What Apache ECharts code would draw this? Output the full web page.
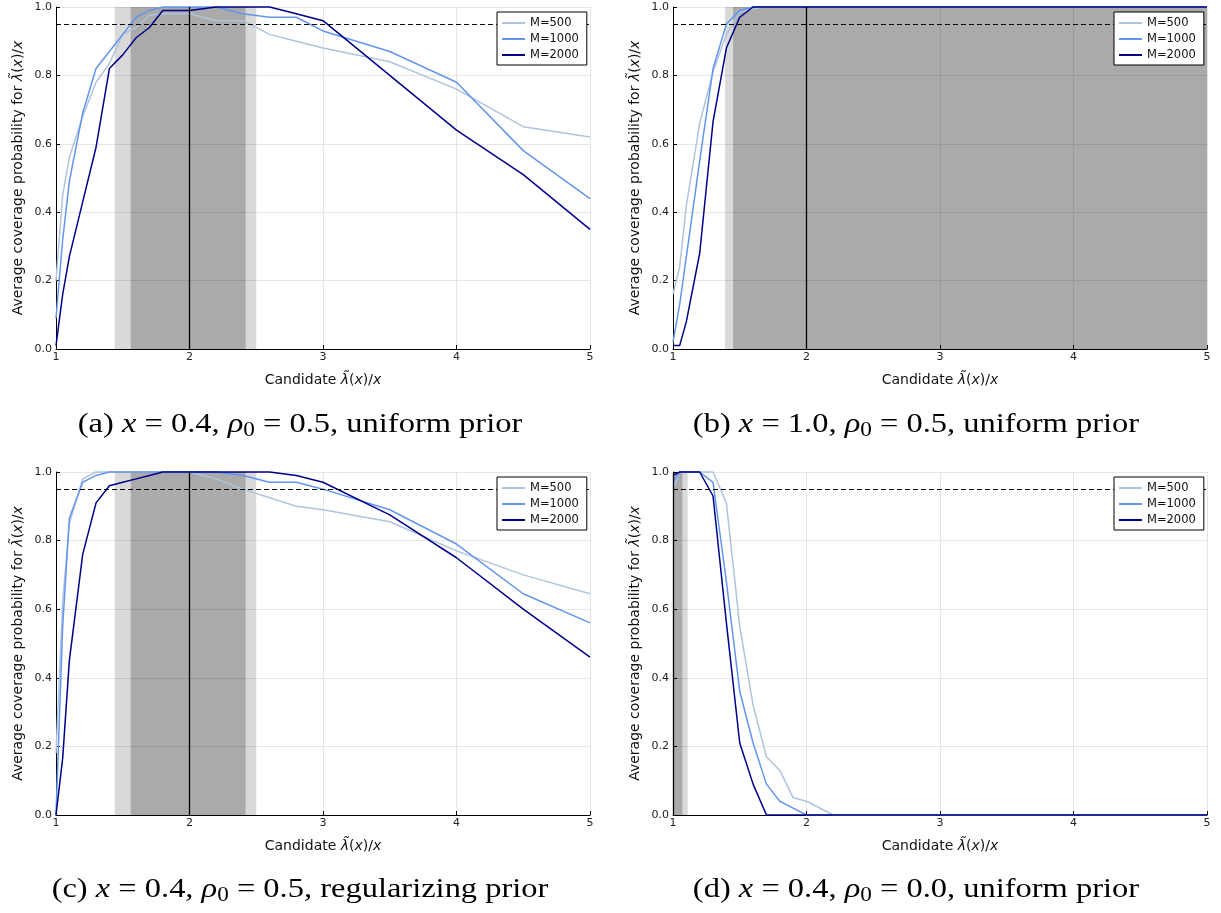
<!DOCTYPE html>
<html><head><meta charset="utf-8">
<script src="https://cdn.jsdelivr.net/npm/echarts@6/dist/echarts.min.js"></script>
<style>html,body{margin:0;padding:0;background:#fff}#c{width:1221px;height:913px}</style>
</head><body><div id="c"></div>
<script>
// ---- data ----
const xs = [1.0,1.05,1.1,1.2,1.3,1.4,1.5,1.6,1.7,1.8,1.9,2.0,2.2,2.4,2.6,2.8,3.0,3.5,4.0,4.5,5.0];
const seriesNames = ['M=500','M=1000','M=2000'];
const xTicks = [1,2,3,4,5];
const yTicks = [0,0.2,0.4,0.6,0.8,1.0];

const a500  = [0.20,0.45,0.56,0.68,0.78,0.835,0.92,0.94,0.975,0.98,0.98,0.98,0.96,0.96,0.92,0.90,0.88,0.84,0.76,0.65,0.62];
const a1000 = [0.09,0.32,0.49,0.69,0.82,0.87,0.92,0.97,0.99,1.0,1.0,1.0,1.0,0.98,0.97,0.97,0.93,0.87,0.78,0.58,0.44];
const a2000 = [0.01,0.16,0.27,0.43,0.59,0.82,0.86,0.91,0.94,0.99,0.99,0.99,1.0,1.0,1.0,0.98,0.96,0.80,0.64,0.51,0.35];

const b500  = [0.16,0.24,0.42,0.66,0.81,0.92,0.985,0.995,1,1,1,1,1,1,1,1,1,1,1,1,1];
const b1000 = [0.02,0.13,0.27,0.55,0.82,0.95,0.99,1,1,1,1,1,1,1,1,1,1,1,1,1,1];
const b2000 = [0.01,0.01,0.08,0.28,0.665,0.88,0.97,1,1,1,1,1,1,1,1,1,1,1,1,1,1];

const c500  = [0.18,0.62,0.85,0.98,1,1,1,1,1,1,1,1.0,0.98,0.95,0.925,0.90,0.89,0.855,0.77,0.70,0.645];
const c1000 = [0.0,0.55,0.865,0.97,0.99,1,1,1,1,1,1,1,1,0.99,0.97,0.97,0.95,0.89,0.79,0.645,0.56];
const c2000 = [0.0,0.165,0.45,0.76,0.91,0.96,0.97,0.98,0.99,1,1,1,1,1,1,0.99,0.97,0.875,0.75,0.60,0.46];

const d500  = [0.95,1,1,1,1,0.91,0.55,0.32,0.17,0.13,0.05,0.04,0,0,0,0,0,0,0,0,0];
const d1000 = [0.97,1,1,1,0.97,0.68,0.36,0.21,0.09,0.04,0.02,0,0,0,0,0,0,0,0,0,0];
const d2000 = [0.99,1,1,1,0.93,0.56,0.21,0.09,0,0,0,0,0,0,0,0,0,0,0,0,0];

// shaded intervals [from, to] and reference values
const lightBands = [[1.44,2.5],[1.39,5],[1.44,2.5],[1.0,1.11]];
const darkBands  = [[1.56,2.42],[1.45,5],[1.56,2.42],[1.0,1.07]];
const trueValues = [2,2,2,1];
const nominal = 0.95;

const captions = [
  ['(a) ','0.4','0.5','uniform prior'],
  ['(b) ','1.0','0.5','uniform prior'],
  ['(c) ','0.4','0.5','regularizing prior'],
  ['(d) ','0.4','0.0','uniform prior']
];
// ---- layout ----
const panelData = [[a500,a1000,a2000],[b500,b1000,b2000],[c500,c1000,c2000],[d500,d1000,d2000]];
const colors = ['#b0c4de','#6495ed','#00008b'];
const grids = [
  {left:56, top:7, width:534, height:342},
  {left:673, top:7, width:534, height:342},
  {left:56, top:472, width:534, height:343},
  {left:673, top:472, width:534, height:343}
];
const FONT = 'DejaVu Sans';
const nameRich = {
  n:{fontFamily:FONT,fontSize:14,color:'#111'},
  i:{fontFamily:FONT,fontSize:14,fontStyle:'italic',color:'#111'}
};
const lamLabel = '{i|λ\u0303}{n|(}{i|x}{n|)/}{i|x}';

const option = {
  animation:false,
  backgroundColor:'#fff',
  grid: grids,
  xAxis: grids.map((g,i)=>({
    type:'value', gridIndex:i, min:1, max:5, interval:1,
    name:'{n|Candidate }'+lamLabel, nameLocation:'middle', nameGap:24,
    nameTextStyle:{rich:nameRich},
    axisLine:{show:true,lineStyle:{color:'#000',width:1}},
    axisTick:{show:true,inside:true,length:4,lineStyle:{color:'#000'}},
    axisLabel:{fontFamily:FONT,fontSize:11,color:'#222',margin:3},
    splitLine:{show:true,lineStyle:{color:'#e6e6e6',width:1}}
  })),
  yAxis: grids.map((g,i)=>({
    type:'value', gridIndex:i, min:0, max:1, interval:0.2,
    name:'{n|Average coverage probability for }'+lamLabel, nameLocation:'middle', nameGap:31,
    nameTextStyle:{rich:nameRich},
    axisLine:{show:true,lineStyle:{color:'#000',width:1}},
    axisTick:{show:true,inside:true,length:4,lineStyle:{color:'#000'}},
    axisLabel:{fontFamily:FONT,fontSize:11,color:'#222',margin:4,formatter:v=>v.toFixed(1)},
    splitLine:{show:true,lineStyle:{color:'#e6e6e6',width:1}}
  })),
  legend: grids.map((g,i)=>({
    data:seriesNames, orient:'vertical', align:'left', z:100, zlevel:0,
    left:g.left+441, top:g.top+5,
    backgroundColor:'#fff', borderColor:'#000', borderWidth:1, borderRadius:0,
    padding:[5,8,4,5], itemGap:4, itemWidth:23, itemHeight:2,
    icon:'rect',
    textStyle:{fontFamily:FONT,fontSize:11.5,color:'#111',lineHeight:12},
    selectedMode:false
  })),
  series: []
};

panelData.forEach((arrs,i)=>{
  // bands + reference lines
  option.series.push({
    type:'line', xAxisIndex:i, yAxisIndex:i, data:[], z:1, silent:true,
    markArea:{silent:true, data:[
      [{xAxis:lightBands[i][0],itemStyle:{color:'rgba(0,0,0,0.149)'}},{xAxis:lightBands[i][1]}],
      [{xAxis:darkBands[i][0],itemStyle:{color:'rgba(0,0,0,0.217)'}},{xAxis:darkBands[i][1]}]
    ]},
    markLine:{silent:true, symbol:'none', label:{show:false}, data:[
      {yAxis:nominal, lineStyle:{color:'#000',type:[5,3],width:1.2}},
      {xAxis:trueValues[i], lineStyle:{color:'#000',type:'solid',width:1.3}}
    ]}
  });
  arrs.forEach((vals,k)=>{
    option.series.push({
      name:seriesNames[k], type:'line', xAxisIndex:i, yAxisIndex:i, z:3,
      data: xs.map((x,j)=>[x,vals[j]]),
      showSymbol:false, clip:false, color:colors[k],
      lineStyle:{width:1.5,color:colors[k]}
    });
  });
});

const capRich = {
  n:{fontFamily:'Liberation Serif',fontSize:28,color:'#000'},
  i:{fontFamily:'Liberation Serif',fontSize:28,fontStyle:'italic',color:'#000'},
  s:{fontFamily:'Liberation Serif',fontSize:20,color:'#000',padding:[12,0,0,0]}
};
option.graphic = captions.map((c,i)=>({
  type:'text',
  x: grids[i].left + (i%2===0 ? 244 : 243),
  y: i<2 ? 425 : 890,
  scaleX:1.16,
  style:{
    text:'{n|'+c[0]+'}{i|x}{n| = '+c[1]+', }{i|ρ}{s|0}{n| = '+c[2]+', '+c[3]+'}',
    rich:capRich, align:'center', verticalAlign:'middle'
  }
}));

const chart = echarts.init(document.getElementById('c'),null,{renderer:'canvas'});
chart.setOption(option);
</script></body></html>
